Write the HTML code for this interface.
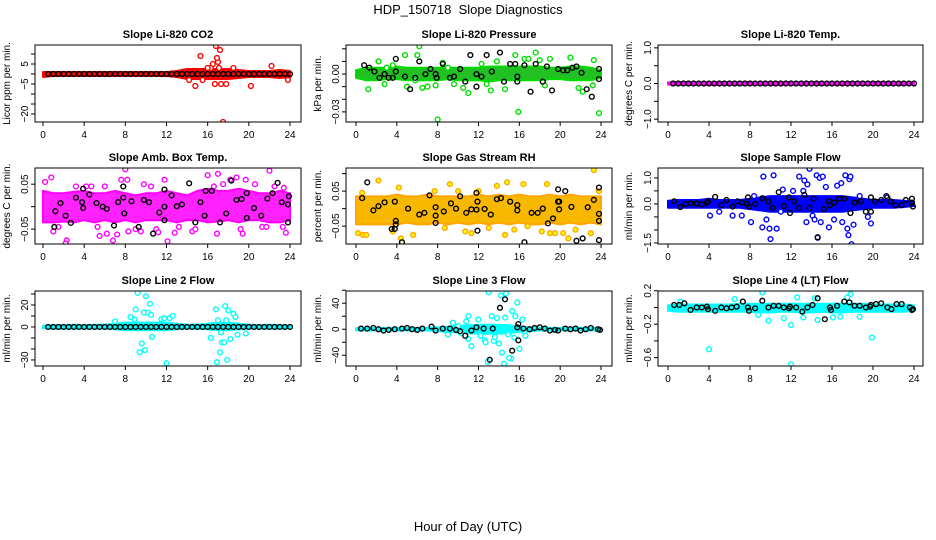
<!DOCTYPE html>
<html><head><meta charset="utf-8"><style>
html,body{margin:0;padding:0;background:#fff;}
svg{display:block;font-family:"Liberation Sans",sans-serif;}
</style></head><body>
<svg id="chart" width="936" height="540" viewBox="0 0 936 540">
<text x="468" y="14" font-size="13" text-anchor="middle" xml:space="preserve">HDP_150718  Slope Diagnostics</text>
<text x="468" y="531" font-size="13" text-anchor="middle">Hour of Day (UTC)</text>
</svg>
<script>
const halfHours=[0.5,1,1.5,2,2.5,3,3.5,4,4.5,5,5.5,6,6.5,7,7.5,8,8.5,9,9.5,10,10.5,11,11.5,12,12.5,13,13.5,14,14.5,15,15.5,16,16.5,17,17.5,18,18.5,19,19.5,20,20.5,21,21.5,22,22.5,23,23.5,24];
const hours=[0,1,2,3,4,5,6,7,8,9,10,11,12,13,14,15,16,17,18,19,20,21,22,23,24];
const xTicks=[0,4,8,12,16,20,24];

// P1 CO2
const co2Lo=[-1.5,-1,-1,-1,-1,-1,-1,-1,-1,-1,-1,-1,-1,-1.5,-2.5,-2.5,-2.5,-2.5,-2.5,-2,-1.5,-1.5,-1.5,-2,-1.5];
const co2Hi=[1,1,1,1,1,1,1,1,1,1,1,1,1,1.5,2.5,2.5,2.5,2.5,2.5,2,1.5,1.5,1.5,2,1.5];
const co2Out=[[15.3,9],[16.8,14],[17.2,12],[16.5,5],[17,6],[16.3,3],[14.8,-6],[17.5,-24],[17.3,-5],[16.7,-5],[17.8,-5],[20.2,-6],[22.2,4],[16,3],[18.5,3],[15.5,-3],[23.8,-3],[16.9,8],[17.1,3],[14.2,-3]];
const co2BlkV=[0,0,0,0,0,0,0,0,0,0,0,0,0,0,0,0,0,0,0,0,0,0,0,0,0,0,0,0,0,0,0,0,0,0,0,0,0,0,0,0,0,0,0,0,0,0,0,0];
// P2 pressure
const prLo=[-0.003,-0.005,-0.005,-0.004,-0.004,-0.005,-0.005,-0.005,-0.005,-0.004,-0.005,-0.005,-0.005,-0.006,-0.005,-0.005,-0.005,-0.005,-0.005,-0.004,-0.004,-0.005,-0.005,-0.005,-0.003];
const prHi=[0.003,0.005,0.005,0.005,0.006,0.005,0.005,0.005,0.005,0.005,0.005,0.005,0.005,0.006,0.006,0.006,0.006,0.006,0.006,0.005,0.005,0.006,0.006,0.005,0.003];
const prOut=[[1.2,-0.012],[2.2,0.010],[2.8,-0.008],[3.6,0.007],[4.8,0.015],[5,-0.01],[5.8,-0.005],[6.2,0.022],[6,0.015],[7.8,-0.009],[8,-0.036],[8.5,0.009],[9.6,-0.008],[10.5,-0.011],[11,-0.015],[12.3,0.008],[13.2,-0.013],[13.8,0.010],[14.6,-0.012],[15.6,0.015],[15.9,-0.030],[16.5,0.012],[17.6,0.017],[18.5,-0.009],[19,0.012],[21,0.013],[21.8,-0.011],[22.2,-0.014],[23.3,0.011],[23.8,-0.031],[23.2,-0.009],[3,0.005],[7,-0.010],[9,0.005],[6.5,-0.011],[12.8,-0.008],[16.9,0.012],[18.0,0.011]];
const prBlk=[[0.8,0.007],[1.3,0.005],[1.8,0.002],[2.3,-0.003],[2.8,0],[3.2,-0.003],[3.6,-0.003],[3.9,0.012],[3.9,0.002],[4.8,-0.002],[5.3,-0.012],[5.8,-0.003],[6.2,0.01],[6.8,0],[7.3,0.004],[7.8,0],[7.9,-0.003],[8.5,0.008],[9.2,-0.003],[9.6,-0.002],[10.2,0.004],[10.7,-0.006],[11.2,0.015],[11.8,0],[11.8,-0.010],[12.3,-0.002],[12.8,0.015],[13.3,0.002],[14.1,0.017],[14.5,-0.006],[15.1,0.008],[15.6,0.008],[15.8,-0.002],[15.8,-0.006],[16.5,0.007],[17.1,-0.014],[17.6,0.008],[18.3,-0.006],[18.7,0.006],[19.2,-0.013],[19.8,0.004],[20.3,0.003],[20.7,0.003],[21.2,0.005],[21.6,0.006],[22.1,0.001],[22.6,-0.012],[23.1,-0.018],[23.8,0.004],[23.8,-0.004]];
// P3 temp
const tLo=[-0.03,-0.03,-0.03,-0.03,-0.03,-0.03,-0.03,-0.03,-0.03,-0.03,-0.03,-0.03,-0.03,-0.03,-0.03,-0.03,-0.03,-0.03,-0.03,-0.03,-0.03,-0.03,-0.03,-0.03,-0.03];
const tHi=[0.03,0.03,0.03,0.03,0.03,0.03,0.03,0.03,0.03,0.03,0.03,0.03,0.03,0.03,0.03,0.03,0.03,0.03,0.03,0.03,0.03,0.03,0.03,0.03,0.03];
const tBlkV=[0,0,0,0,0,0,0,0,0,0,0,0,0,0,0,0,0,0,0,0,0,0,0,0,0,0,0,0,0,0,0,0,0,0,0,0,0,0,0,0,0,0,0,0,0,0,0,0];
// P4 amb box temp
const abLo=[-0.035,-0.035,-0.033,-0.035,-0.03,-0.035,-0.03,-0.035,-0.03,-0.035,-0.03,-0.03,-0.03,-0.035,-0.03,-0.03,-0.035,-0.033,-0.03,-0.035,-0.03,-0.03,-0.035,-0.035,-0.03];
const abHi=[0.035,0.03,0.03,0.033,0.035,0.03,0.03,0.035,0.03,0.025,0.03,0.03,0.035,0.03,0.025,0.035,0.04,0.035,0.035,0.04,0.035,0.03,0.03,0.035,0.03];
const abOut=[[0.2,0.055],[0.8,0.065],[1,-0.055],[1.5,-0.045],[2.3,-0.075],[2.2,-0.082],[3.2,0.045],[4.2,0.045],[4.7,0.045],[5.3,-0.045],[5.5,-0.065],[6,0.045],[6.2,-0.06],[6.8,-0.075],[7.2,-0.062],[7.6,0.06],[8,0.083],[8.2,0.06],[8.3,-0.055],[9,-0.05],[9.5,-0.055],[9.8,0.05],[10.5,0.045],[11,-0.05],[11.2,-0.057],[11.8,0.06],[12.1,-0.077],[12.8,-0.058],[13.2,-0.045],[14.5,-0.055],[14.8,-0.05],[16,0.07],[16.6,0.045],[16.9,-0.06],[17,0.073],[17.5,0.05],[18.2,0.06],[18.8,0.065],[19.2,-0.05],[19.4,-0.06],[19.7,0.06],[20.6,0.05],[21.3,-0.045],[21.7,-0.045],[22,0.08],[22.5,0.045],[23.3,-0.045],[23.4,0.042],[23.6,-0.058]];
const abBlk=[[1.2,-0.01],[1.1,-0.045],[1.7,0.008],[2.2,-0.02],[2.7,-0.036],[3.2,0.02],[3.9,0.04],[3.8,0.01],[3.9,-0.003],[4.5,0.027],[5.2,0.008],[5.8,0],[6.2,-0.005],[6.9,-0.042],[7.3,0.01],[7.8,0.045],[7.8,0.02],[7.9,-0.015],[8.6,0.012],[9.3,-0.045],[9.8,0.015],[10.3,0.01],[10.7,-0.06],[11.3,-0.013],[11.8,0.038],[11.8,-0.03],[11.8,0],[12.5,0.025],[13,0.001],[13.5,0.005],[14.2,0.052],[14.8,-0.035],[15.3,0.01],[15.8,0.035],[15.7,-0.02],[16.4,0.035],[17.2,-0.035],[17.8,-0.015],[18.3,0.058],[18.8,0.015],[19.3,0.017],[19.8,0.03],[19.8,-0.025],[20.5,-0.003],[21.2,-0.02],[21.8,0.018],[22.3,0.03],[22.8,0.053],[23.2,0.01],[23.8,0.005],[23.8,-0.035],[23.9,0.023]];
// P5 gas stream RH
const rhLo=[-0.045,-0.045,-0.045,-0.045,-0.045,-0.04,-0.045,-0.045,-0.04,-0.045,-0.04,-0.045,-0.04,-0.045,-0.04,-0.045,-0.04,-0.045,-0.045,-0.04,-0.045,-0.04,-0.045,-0.04,-0.045];
const rhHi=[0.035,0.035,0.035,0.035,0.04,0.035,0.035,0.04,0.035,0.035,0.035,0.035,0.04,0.035,0.04,0.035,0.04,0.035,0.035,0.04,0.035,0.04,0.035,0.035,0.035];
const rhOut=[[0.2,-0.07],[0.7,-0.075],[1.0,-0.075],[0.6,0.045],[2.2,0.08],[3.6,-0.065],[4.2,0.06],[4.4,-0.085],[5.6,-0.075],[7.7,0.05],[8.7,-0.055],[9.2,0.07],[10.0,0.05],[10.7,-0.065],[11.3,-0.07],[12.0,0.05],[13.0,-0.055],[13.8,0.065],[14.6,-0.075],[14.8,0.075],[15.5,-0.06],[16.4,0.07],[16.8,-0.05],[18.2,-0.065],[18.7,0.07],[19.0,-0.07],[19.5,-0.07],[20.3,-0.07],[20.8,-0.085],[21.5,-0.06],[23.0,-0.07],[23.3,0.11],[23.8,0.05]];
const rhBlk=[[0.6,0.03],[1.1,0.075],[1.7,-0.005],[2.2,0.007],[2.8,0.018],[3.5,-0.058],[3.8,-0.058],[3.9,-0.035],[3.9,-0.045],[3.8,0.02],[4.5,-0.096],[5.1,0.0],[6.2,-0.017],[6.7,-0.012],[7.2,0.038],[7.8,0.004],[7.8,-0.02],[7.8,-0.041],[8.6,-0.008],[9.3,0.015],[9.8,0.0],[10.2,0.035],[10.8,-0.012],[11.3,-0.002],[11.8,0.045],[11.8,-0.003],[11.9,0.02],[11.9,-0.063],[12.6,-0.001],[13.2,-0.017],[13.8,0.027],[14.2,0.03],[15.1,0.02],[15.8,0.01],[15.8,-0.005],[16.5,-0.096],[17.2,-0.012],[17.8,-0.012],[18.3,0.0],[18.8,-0.042],[19.3,-0.028],[19.8,0.055],[19.8,0.02],[19.9,0.02],[19.9,-0.002],[20.5,0.05],[21.1,0.005],[21.6,-0.092],[22.2,-0.085],[22.7,0.004],[23.3,0.025],[23.8,0.06],[23.8,-0.015],[23.8,-0.035],[23.8,-0.09]];
// P6 sample flow
const sfLo=[-0.15,-0.15,-0.15,-0.15,-0.15,-0.15,-0.15,-0.15,-0.2,-0.25,-0.3,-0.3,-0.3,-0.3,-0.3,-0.3,-0.3,-0.3,-0.25,-0.2,-0.15,-0.15,-0.15,-0.12,-0.08];
const sfHi=[0.12,0.15,0.15,0.15,0.2,0.15,0.15,0.15,0.2,0.25,0.3,0.3,0.3,0.3,0.3,0.3,0.3,0.3,0.25,0.2,0.15,0.15,0.15,0.12,0.08];
const sfOut=[[4.1,-0.45],[5,-0.3],[6.3,-0.45],[7.2,-0.45],[8.1,-0.7],[9.2,-0.9],[9.3,1.05],[9.6,-0.6],[9.9,-0.95],[10.0,-1.35],[10.3,1.1],[10.6,-0.95],[11.2,0.55],[12.2,0.5],[12.8,1.05],[13.2,0.5],[13.5,-0.7],[13.8,1.35],[13.6,0.75],[13.3,0.9],[14.1,-0.45],[14.5,1.1],[14.3,-0.6],[14.6,-1.3],[14.8,1.0],[14.9,-0.7],[15.1,1.05],[15.4,0.65],[15.7,-0.9],[16.2,-0.6],[16.5,0.7],[16.9,0.8],[17.0,-0.7],[17.3,1.1],[17.5,-0.95],[17.6,-1.2],[17.7,0.95],[17.8,1.05],[17.9,-1.55],[18.1,-0.8],[18.7,0.3],[19.5,-0.5],[19.8,-0.75],[21.4,0.25],[8.4,0.3],[11,-0.3]];
const sfBlk=[[0.6,0.1],[1.2,-0.12],[1.7,0],[2.2,0.02],[2.8,0.02],[3.3,-0.02],[3.8,0.05],[3.9,0.1],[4.6,0.27],[5.2,-0.05],[5.7,0.15],[6.3,-0.1],[6.8,0.1],[7.2,0.05],[7.7,0],[7.8,0.25],[7.9,-0.1],[8.5,0],[9.2,0.22],[9.8,0.1],[10.2,-0.15],[10.8,0.45],[11.3,-0.08],[11.8,0.25],[11.9,-0.35],[12.3,0.1],[12.8,-0.15],[13.3,0.35],[13.8,-0.15],[14.2,0.2],[14.6,-1.28],[15.2,-0.2],[15.7,0.1],[15.8,-0.05],[16.2,0.05],[16.7,0.2],[17.2,0.2],[17.8,-0.35],[18.2,0.05],[18.8,0.1],[19.3,-0.3],[19.8,-0.3],[19.8,0.25],[20.2,0.1],[20.8,0.15],[21.3,0.3],[21.7,0.1],[22.2,-0.05],[22.8,-0.05],[23.2,0.15],[23.8,0.2],[23.8,0.05],[23.9,-0.1]];
// P7 line 2 flow
const l2Lo=[-1,-1.5,-1.5,-1.5,-1.5,-1.5,-1.5,-2,-3,-3,-3,-3,-3,-2,-1.5,-1.5,-2,-3,-3,-2,-1.5,-1.5,-1.5,-1.5,-1];
const l2Hi=[1,1.5,1.5,2,1.5,2,2,3,4,4,4,4,4,3,2,2,3,4,4,3,2,1.5,2,1.5,1];
const l2Out=[[8.5,9],[8.9,7],[9,16],[9.2,31],[9.4,-23],[9.6,-15],[9.8,13],[9.9,-21],[10,28],[10.2,13],[10.4,21],[10.5,11],[10.6,-9],[11.5,7],[11.8,8],[12.3,8],[12.6,10],[12,-33],[7.0,5],[16.3,-10],[16.8,16],[17,6],[16.9,-32],[17.2,-23],[17.3,-5],[17.4,-14],[17.6,-14],[17.7,19],[17.9,-30],[17.8,6],[18,15],[18.2,-11],[18.5,12],[18.7,9],[18.9,-7],[19.7,-6]];
const l2BlkV=[0,0,0,0,0,0,0,0,0,0,0,0,0,0,0,0,0,0,0,0,0,0,0,0,0,0,0,0,0,0,0,0,0,0,0,0,0,0,0,0,0,0,0,0,0,0,0,0];
// P8 line 3 flow
const l3Lo=[-1.5,-2,-2,-2,-2,-2,-2,-2,-3,-4,-5,-6,-7,-7,-7,-6,-4,-3,-2,-2,-2,-2,-2,-2,-1.5];
const l3Hi=[1.5,2,2,2,2,2,2,2,3,4,5,6,7,7,7,6,4,3,2,2,2,2,2,2,1.5];
const l3Out=[[9,-8],[9.5,10],[10,5],[10.8,12],[11,20],[11,-15],[11.3,-26],[12,15],[12.2,-10],[12.6,-17],[12.7,-20],[12.9,-50],[13,57],[13.3,20],[13.5,-18],[13.6,-12],[13.8,17],[14,-22],[14.2,52],[14.3,-36],[14.5,-53],[14.6,18],[14.7,55],[14.9,-8],[15.2,-45],[15.3,28],[15.5,-13],[15.6,20],[15.8,41],[16.0,-30],[16.3,15],[16.5,-5],[16.6,-10],[10.3,-6],[15.0,-44]];
const l3Blk=[[0.5,1],[1.1,1],[1.7,2],[2.2,0],[2.7,-2],[3.2,-1],[3.8,0],[4.5,1],[5,2],[5.5,0],[6,-1],[6.5,1],[7.4,4],[7.8,-2],[8.5,1],[9.2,1],[9.8,-1],[10.2,-3],[10.7,-10],[11.3,-2],[11.8,3],[12.5,1],[13.1,-47],[13.4,1],[14.1,33],[14.6,46],[15.3,-33],[15.9,-17],[15.9,8],[15.8,3],[16.4,1],[17,0],[17.5,2],[18,3],[18.5,1],[19,-2],[19.5,-1],[19.8,-2],[20.5,1],[21,0],[21.5,1],[22,-2],[22.5,0],[23,2],[23.7,0],[23.9,-1]];
// P9 line 4 flow
const l4Lo=[-0.04,-0.05,-0.05,-0.05,-0.05,-0.05,-0.05,-0.05,-0.05,-0.06,-0.06,-0.05,-0.05,-0.06,-0.06,-0.05,-0.06,-0.06,-0.05,-0.05,-0.05,-0.05,-0.05,-0.05,-0.04];
const l4Hi=[0.025,0.035,0.035,0.035,0.035,0.035,0.035,0.045,0.045,0.045,0.045,0.045,0.045,0.045,0.045,0.045,0.045,0.045,0.045,0.045,0.035,0.035,0.035,0.035,0.025];
const l4Out=[[4.0,-0.50],[12.0,-0.68],[12.0,-0.21],[19.9,-0.36],[9.2,0.18],[17.8,0.16],[17.5,0.12],[9.8,-0.16],[11.3,-0.13],[13.2,-0.12],[14.6,-0.15],[16.1,-0.12],[16.8,-0.11],[18.7,-0.11],[1.2,0.07],[6.5,0.1],[8.8,-0.09],[12.6,0.12],[14.3,0.11]];
const l4Blk=[[0.6,0.03],[1.1,0.03],[1.6,0.05],[2.2,-0.03],[2.8,0.0],[3.3,0.0],[3.8,0.01],[3.9,-0.02],[4.6,-0.04],[5.2,0.0],[5.7,-0.01],[6.2,0.0],[6.7,0.01],[7.3,0.07],[7.8,0.0],[7.9,-0.04],[8.5,-0.01],[9.2,0.08],[9.8,0.0],[10.3,0.02],[10.8,0.02],[11.3,0.0],[11.8,-0.01],[11.9,0.01],[12.5,0.0],[13.1,-0.05],[13.6,0.0],[14.1,0.03],[14.6,0.11],[15.3,-0.14],[15.8,0.0],[15.9,-0.03],[16.5,0.02],[17.2,0.07],[17.7,0.06],[18.2,0.02],[18.7,0.02],[19.3,0.0],[19.7,0.01],[19.8,0.03],[20.3,0.04],[20.8,0.05],[21.4,0.0],[21.8,-0.02],[22.3,0.04],[22.8,0.04],[23.6,0.0],[23.8,-0.03],[23.9,-0.02]];

const cols=[{l:35,r:301,x0:43,x24:290,yl:10},{l:346,r:612,x0:356,x24:601,yl:321},{l:658,r:923,x0:668,x24:914,yl:632}];
const rows=[{t:45,b:122},{t:168,b:244},{t:291,b:366}];

function pairsFrom(hs,vs){const o=[];for(let i=0;i<hs.length;i++)o.push([hs[i],vs[i]]);return o;}

const panels=[
 {name:'co2',title:'Slope Li-820 CO2',ylab:'Licor ppm per min.',c:0,r:0,ymin:-24,ymax:14.5,ticks:[10,5,0,-5,-10,-15,-20],labels:[[5,'5'],[-5,'-5'],[-20,'-20']],col:'#ff0000',fill:'#ffffff',band:'#ff0000',lo:co2Lo,hi:co2Hi,out:co2Out,blk:pairsFrom(halfHours,co2BlkV)},
 {name:'pressure',title:'Slope Li-820 Pressure',ylab:'kPa per min.',c:1,r:0,ymin:-0.038,ymax:0.023,ticks:[0.02,0.01,0,-0.01,-0.02,-0.03],labels:[[0,'0.00'],[-0.03,'-0.03']],col:'#00dd00',fill:'#ffffff',band:'#22c022',lo:prLo,hi:prHi,out:prOut,blk:prBlk},
 {name:'temp',title:'Slope Li-820 Temp.',ylab:'degrees C per min.',c:2,r:0,ymin:-1.08,ymax:1.08,ticks:[1,0.5,0,-0.5,-1],labels:[[1,'1.0'],[0,'0.0'],[-1,'-1.0']],col:'#ff00ff',fill:'#ffffff',band:'#ff00ff',lo:tLo,hi:tHi,out:[],blk:pairsFrom(halfHours,tBlkV)},
 {name:'amb-box-temp',title:'Slope Amb. Box Temp.',ylab:'degrees C per min.',c:0,r:1,ymin:-0.083,ymax:0.086,ticks:[0.05,0,-0.05],labels:[[0.05,'0.05'],[-0.05,'-0.05']],col:'#ff00ff',fill:'#ffffff',band:'#ff22ff',lo:abLo,hi:abHi,out:abOut,blk:abBlk},
 {name:'gas-stream-rh',title:'Slope Gas Stream RH',ylab:'percent per min.',c:1,r:1,ymin:-0.101,ymax:0.116,ticks:[0.1,0.05,0,-0.05],labels:[[0.05,'0.05'],[-0.05,'-0.05']],col:'#ffa500',fill:'#ffff00',band:'#f8b800',lo:rhLo,hi:rhHi,out:rhOut,blk:rhBlk},
 {name:'sample-flow',title:'Slope Sample Flow',ylab:'ml/min per min.',c:2,r:1,ymin:-1.54,ymax:1.38,ticks:[1,0.5,0,-0.5,-1,-1.5],labels:[[1,'1.0'],[0,'0.0'],[-1.5,'-1.5']],col:'#0000ff',fill:'#ffffff',band:'#0000ff',lo:sfLo,hi:sfHi,out:sfOut,blk:sfBlk},
 {name:'line2-flow',title:'Slope Line 2 Flow',ylab:'ml/min per min.',c:0,r:2,ymin:-35.5,ymax:32.7,ticks:[30,20,10,0,-10,-20,-30],labels:[[20,'20'],[0,'0'],[-30,'-30']],col:'#00ffff',fill:'#ffffff',band:'#00ffff',lo:l2Lo,hi:l2Hi,out:l2Out,blk:pairsFrom(halfHours,l2BlkV)},
 {name:'line3-flow',title:'Slope Line 3 Flow',ylab:'ml/min per min.',c:1,r:2,ymin:-56.5,ymax:58.8,ticks:[60,40,20,0,-20,-40],labels:[[40,'40'],[0,'0'],[-40,'-40']],col:'#00ffff',fill:'#ffffff',band:'#00ffff',lo:l3Lo,hi:l3Hi,out:l3Out,blk:l3Blk},
 {name:'line4-flow',title:'Slope Line 4 (LT) Flow',ylab:'ml/min per min.',c:2,r:2,ymin:-0.70,ymax:0.197,ticks:[0.2,0,-0.2,-0.4,-0.6],labels:[[0.2,'0.2'],[-0.2,'-0.2'],[-0.6,'-0.6']],col:'#00ffff',fill:'#ffffff',band:'#00ffff',lo:l4Lo,hi:l4Hi,out:l4Out,blk:l4Blk}
];

const NS='http://www.w3.org/2000/svg';
const svg=document.getElementById('chart');
function mk(tag,attrs,parent){const e=document.createElementNS(NS,tag);for(const k in attrs)e.setAttribute(k,attrs[k]);(parent||svg).appendChild(e);return e;}

panels.forEach(p=>{
 const C=cols[p.c],R=rows[p.r];
 const xs=h=>C.x0+(C.x24-C.x0)*h/24;
 const ys=v=>R.b-(v-p.ymin)/(p.ymax-p.ymin)*(R.b-R.t);
 const g=mk('g',{});
 
 
 const cp=mk('clipPath',{id:'cp-'+p.name},g);
 mk('rect',{x:C.l,y:R.t,width:C.r-C.l,height:R.b-R.t},cp);
 const title=mk('text',{x:(C.l+C.r)/2,y:R.t-7,'font-size':11,'font-weight':'bold','text-anchor':'middle'},g);
 title.textContent=p.title;
 
 
 const plot=mk('g',{'clip-path':'url(#cp-'+p.name+')'},g);
 let d='';
 hours.forEach((h,i)=>{d+=(i?'L':'M')+xs(h).toFixed(1)+','+ys(p.hi[i]).toFixed(1);});
 for(let i=hours.length-1;i>=0;i--)d+='L'+xs(hours[i]).toFixed(1)+','+ys(p.lo[i]).toFixed(1);
 const band=mk('path',{d:d+'Z',fill:p.band,stroke:p.col,'stroke-width':2,'stroke-linejoin':'round'},plot);
 
 
 p.out.forEach(pt=>{
  const c=mk('circle',{cx:xs(pt[0]),cy:ys(pt[1]),r:2.4,fill:p.fill,stroke:p.col,'stroke-width':1.4},plot);
  
  
 });
 p.blk.forEach(pt=>{
  const c=mk('circle',{cx:xs(pt[0]),cy:ys(pt[1]),r:2.4,fill:'none',stroke:'#000','stroke-width':1.4},plot);
  
  
 });
 const box=mk('rect',{x:C.l,y:R.t,width:C.r-C.l,height:R.b-R.t,fill:'none',stroke:'#000','stroke-width':1},g);
 
 
 xTicks.forEach(t=>{
  mk('line',{x1:xs(t),x2:xs(t),y1:R.b,y2:R.b+4,stroke:'#000'},g);
  const tx=mk('text',{x:xs(t),y:R.b+16,'font-size':10,'text-anchor':'middle'},g);
  tx.textContent=String(t);
  
  
 });
 p.ticks.forEach(t=>{mk('line',{x1:C.l-4,x2:C.l,y1:ys(t),y2:ys(t),stroke:'#000'},g);});
 p.labels.forEach(L=>{
  const y=ys(L[0]),x=C.l-7;
  const tx=mk('text',{x:x,y:y,'font-size':10,'text-anchor':'middle',transform:'rotate(-90 '+x+' '+y+')'},g);
  tx.textContent=L[1].replace('-','\u2212');
  
  
 });
 const ym=(R.t+R.b)/2;
 const yl=mk('text',{x:C.yl,y:ym,'font-size':10,'text-anchor':'middle',transform:'rotate(-90 '+C.yl+' '+ym+')'},g);
 yl.textContent=p.ylab;
 
 
});
</script>
</body></html>
